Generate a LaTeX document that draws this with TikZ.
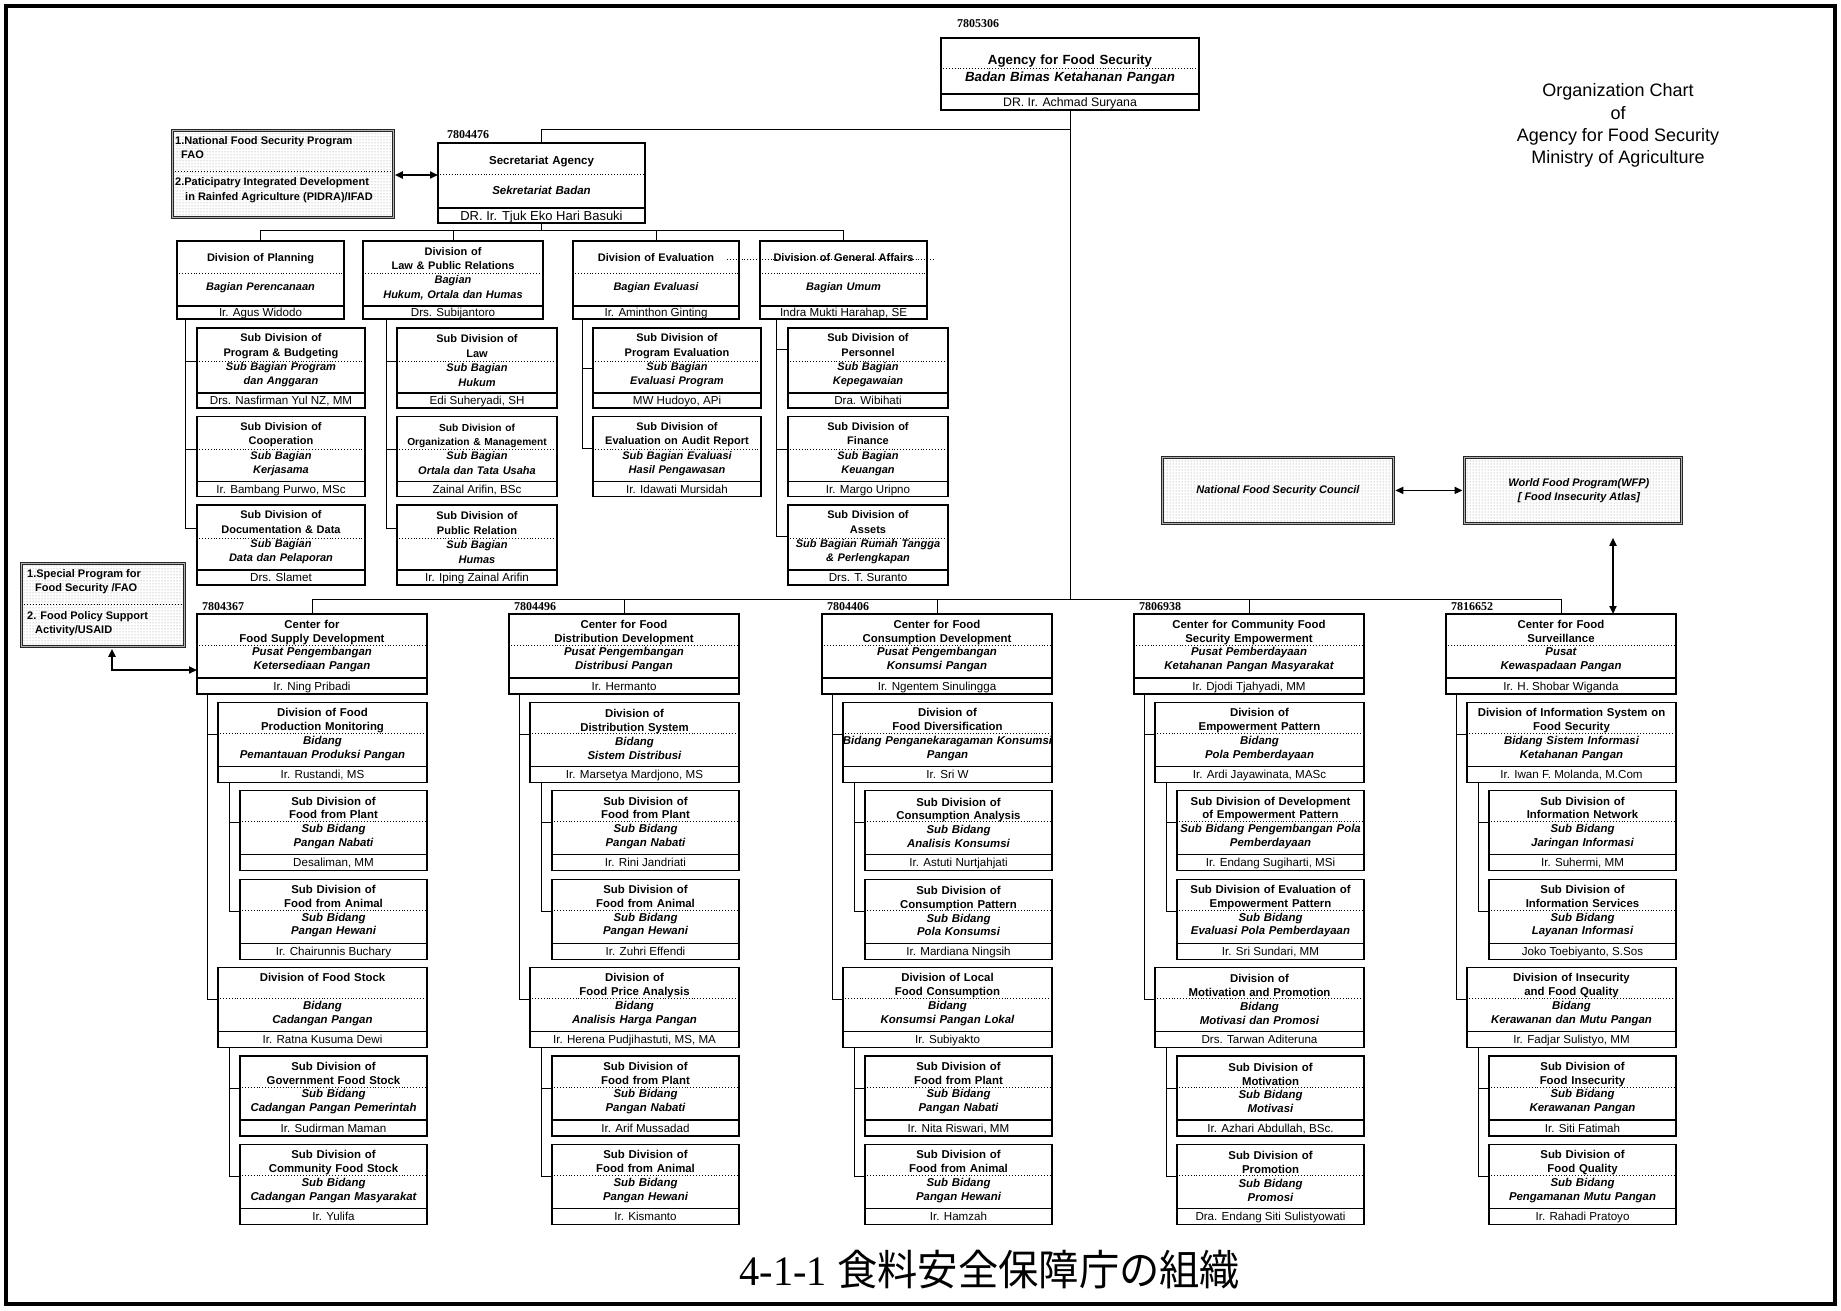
\documentclass[tikz,border=0pt]{standalone}
\usepackage{fontspec}
\usepackage{graphicx}
\setmainfont{Liberation Sans}
\newfontfamily\numfont{Liberation Serif}
\newfontfamily\cjkfont{Noto Sans CJK JP}
\usetikzlibrary{calc,arrows.meta,patterns}

% geometry and type settings of the organisation boxes (changed per tier)
\newcommand\obH{80}
\newcommand\obDiv{65}
\newcommand\obDot{33}
\newcommand\obFs{11}
\newcommand\obLs{14.4}
\newcommand\obNs{11.6}
\newcommand\obShift{0}

% #1 name, #2 x, #3 y (top left), #4 width, #5 English heading, #6 Indonesian name, #7 head of unit
\newcommand\orgbox[7]{%
  \node[obframe, minimum width=#4pt, minimum height=\obH pt] (#1) at (#2,#3) {};
  \draw[obdot] ($(#1.north west)+(2,\obDot)$) -- ($(#1.north east)+(0,\obDot)$);
  \draw[obrule] ($(#1.north west)+(0,\obDiv)$) -- ($(#1.north east)+(0,\obDiv)$);
  \node[obtext] (#1-t) at ($(#1.north)+(0,\obDiv/2+\obShift)$) {\bfseries #5\\\itshape #6};
  \node[obname] (#1-n) at ($(#1.south)+(0,{(\obDiv-\obH)/2+0.36*\obNs})$) {#7};
}

\begin{document}
\begin{tikzpicture}[x=1pt,y=-1pt,
  obframe/.style={draw, line width=1.1pt, inner sep=0pt, outer sep=0pt, anchor=north west},
  obrule/.style={line width=1.1pt},
  obdot/.style={line width=0.9pt, dotted},
  obtext/.style={inner sep=0pt, text width=280pt, align=center, font=\fontsize{\obFs}{\obLs}\selectfont},
  obname/.style={inner sep=0pt, anchor=base, font=\fontsize{\obNs}{\obNs}\selectfont},
  conn/.style={line width=1pt},
  progbox/.style={draw=black!85, line width=0.8pt, double=black!30, double distance=1.4pt,
    pattern=dots, pattern color=black!45, inner sep=0pt, anchor=north west},
  progtext/.style={inner sep=0pt, anchor=west, align=left, font=\fontsize{11}{14.5}\selectfont\bfseries},
  progital/.style={inner sep=0pt, align=center, font=\fontsize{11}{14}\selectfont\bfseries\itshape},
  numlabel/.style={inner sep=0pt, anchor=west, font=\fontsize{12}{12}\selectfont\numfont\bfseries},
  biarrow/.style={line width=1.8pt, {Triangle[length=8pt,width=7pt]}-{Triangle[length=8pt,width=7pt]}},
]
\useasboundingbox (0,0) rectangle (1841,1310);
\draw[line width=3.5pt] (6,6) rectangle (1835,1304);

% ---------------- head of agency ----------------
\renewcommand\obH{72}\renewcommand\obDiv{56}\renewcommand\obDot{30}\renewcommand\obShift{4}
\renewcommand\obFs{13.3}\renewcommand\obLs{17}\renewcommand\obNs{12.3}
\orgbox{ag}{941}{38}{258}{Agency for Food Security}{Badan Bimas Ketahanan Pangan}{DR. Ir. Achmad Suryana}
\node[numlabel] (n-ag) at ($(ag.north west)+(16,-14)$) {7805306};
\renewcommand\obShift{0}

% ---------------- secretariat ----------------
\renewcommand\obH{80}\renewcommand\obDiv{65}\renewcommand\obDot{31}
\renewcommand\obFs{11.5}\renewcommand\obLs{15}\renewcommand\obNs{13}
\orgbox{sec}{438}{143}{207}{Secretariat Agency\\\mbox{}}{Sekretariat Badan}{DR. Ir. Tjuk Eko Hari Basuki}
\node[numlabel] (n-sec) at ($(sec.north west)+(9,-8)$) {7804476};

% ---------------- divisions of the secretariat ----------------
\renewcommand\obH{78}\renewcommand\obDiv{65}\renewcommand\obDot{32}
\renewcommand\obFs{11}\renewcommand\obLs{14.4}\renewcommand\obNs{11.6}
\orgbox{dplan}{177}{241}{167}{Division of Planning\\\mbox{}}{Bagian Perencanaan}{Ir. Agus Widodo}
\orgbox{dlaw}{363}{241}{180}{Division of\\Law \& Public Relations}{Bagian\\Hukum, Ortala dan Humas}{Drs. Subijantoro}
\orgbox{deval}{573}{241}{166}{Division of Evaluation\\\mbox{}}{Bagian Evaluasi}{Ir. Aminthon Ginting}
\orgbox{dga}{760}{241}{167}{Division of General Affairs\\\mbox{}}{Bagian Umum}{Indra Mukti Harahap, SE}
\draw[obdot] ($(deval.north west)+(154,18)$) -- ($(dga.north east)+(6,18)$);

% ---------------- sub divisions of the secretariat ----------------
\renewcommand\obH{80}\renewcommand\obDiv{65}\renewcommand\obDot{33}
\orgbox{pa}{197}{328}{168}{Sub Division of\\Program \& Budgeting}{Sub Bagian Program\\dan Anggaran}{Drs. Nasfirman Yul NZ, MM}
\orgbox{pb}{197}{416.5}{168}{Sub Division of\\Cooperation}{Sub Bagian\\Kerjasama}{Ir. Bambang Purwo, MSc}
\orgbox{pc}{197}{505}{168}{Sub Division of\\Documentation \& Data}{Sub Bagian\\Data dan Pelaporan}{Drs. Slamet}
\orgbox{la}{397}{328}{160}{Sub Division of\\Law}{Sub Bagian\\Hukum}{Edi Suheryadi, SH}
\orgbox{lb}{397}{416.5}{160}{{\fontsize{10.2}{14.4}\selectfont Sub Division of\\Organization \& Management}}{Sub Bagian\\Ortala dan Tata Usaha}{Zainal Arifin, BSc}
\orgbox{lc}{397}{505}{160}{Sub Division of\\Public Relation}{Sub Bagian\\Humas}{Ir. Iping Zainal Arifin}
\orgbox{ea}{593}{328}{168}{Sub Division of\\Program Evaluation}{Sub Bagian\\Evaluasi Program}{MW Hudoyo, APi}
\orgbox{eb}{593}{416.5}{168}{Sub Division of\\Evaluation on Audit Report}{Sub Bagian Evaluasi\\Hasil Pengawasan}{Ir. Idawati Mursidah}
\orgbox{ga}{788}{328}{160}{Sub Division of\\Personnel}{Sub Bagian\\Kepegawaian}{Dra. Wibihati}
\orgbox{gb}{788}{416.5}{160}{Sub Division of\\Finance}{Sub Bagian\\Keuangan}{Ir. Margo Uripno}
\orgbox{gc}{788}{505}{160}{Sub Division of\\Assets}{Sub Bagian Rumah Tangga\\\& Perlengkapan}{Drs. T. Suranto}

% ---------------- centres ----------------
\renewcommand\obH{80}\renewcommand\obDiv{64}\renewcommand\obDot{31}
\renewcommand\obFs{11.4}\renewcommand\obLs{13.8}\renewcommand\obNs{11.6}
% Food supply
\orgbox{c1}{197}{614}{230}{Center for\\Food Supply Development}{Pusat Pengembangan\\Ketersediaan Pangan}{Ir. Ning Pribadi}
\orgbox{d1a}{218}{702.4}{209}{Division of Food\\Production Monitoring}{Bidang\\Pemantauan Produksi Pangan}{Ir. Rustandi, MS}
\orgbox{s1a}{240}{790.8}{187}{Sub Division of\\Food from Plant}{Sub Bidang\\Pangan Nabati}{Desaliman, MM}
\orgbox{s1b}{240}{879.2}{187}{Sub Division of\\Food from Animal}{Sub Bidang\\Pangan Hewani}{Ir. Chairunnis Buchary}
\orgbox{d1b}{218}{967.6}{209}{Division of Food Stock\\\mbox{}}{Bidang\\Cadangan Pangan}{Ir. Ratna Kusuma Dewi}
\orgbox{s1c}{240}{1056}{187}{Sub Division of\\Government Food Stock}{Sub Bidang\\Cadangan Pangan Pemerintah}{Ir. Sudirman Maman}
\orgbox{s1d}{240}{1144.4}{187}{Sub Division of\\Community Food Stock}{Sub Bidang\\Cadangan Pangan Masyarakat}{Ir. Yulifa}
% Food distribution
\orgbox{c2}{509}{614}{230}{Center for Food\\Distribution Development}{Pusat Pengembangan\\Distribusi Pangan}{Ir. Hermanto}
\orgbox{d2a}{530}{702.4}{209}{Division of\\Distribution System}{Bidang\\Sistem Distribusi}{Ir. Marsetya Mardjono, MS}
\orgbox{s2a}{552}{790.8}{187}{Sub Division of\\Food from Plant}{Sub Bidang\\Pangan Nabati}{Ir. Rini Jandriati}
\orgbox{s2b}{552}{879.2}{187}{Sub Division of\\Food from Animal}{Sub Bidang\\Pangan Hewani}{Ir. Zuhri Effendi}
\orgbox{d2b}{530}{967.6}{209}{Division of\\Food Price Analysis}{Bidang\\Analisis Harga Pangan}{Ir. Herena Pudjihastuti, MS, MA}
\orgbox{s2c}{552}{1056}{187}{Sub Division of\\Food from Plant}{Sub Bidang\\Pangan Nabati}{Ir. Arif Mussadad}
\orgbox{s2d}{552}{1144.4}{187}{Sub Division of\\Food from Animal}{Sub Bidang\\Pangan Hewani}{Ir. Kismanto}
% Food consumption
\orgbox{c3}{822}{614}{230}{Center for Food\\Consumption Development}{Pusat Pengembangan\\Konsumsi Pangan}{Ir. Ngentem Sinulingga}
\orgbox{d3a}{843}{702.4}{209}{Division of\\Food Diversification}{Bidang Penganekaragaman Konsumsi\\Pangan}{Ir. Sri W}
\orgbox{s3a}{865}{790.8}{187}{Sub Division of\\Consumption Analysis}{Sub Bidang\\Analisis Konsumsi}{Ir. Astuti Nurtjahjati}
\orgbox{s3b}{865}{879.2}{187}{Sub Division of\\Consumption Pattern}{Sub Bidang\\Pola Konsumsi}{Ir. Mardiana Ningsih}
\orgbox{d3b}{843}{967.6}{209}{Division of Local\\Food Consumption}{Bidang\\Konsumsi Pangan Lokal}{Ir. Subiyakto}
\orgbox{s3c}{865}{1056}{187}{Sub Division of\\Food from Plant}{Sub Bidang\\Pangan Nabati}{Ir. Nita Riswari, MM}
\orgbox{s3d}{865}{1144.4}{187}{Sub Division of\\Food from Animal}{Sub Bidang\\Pangan Hewani}{Ir. Hamzah}
% Community food security
\orgbox{c4}{1134}{614}{230}{Center for Community Food\\Security Empowerment}{Pusat Pemberdayaan\\Ketahanan Pangan Masyarakat}{Ir. Djodi Tjahyadi, MM}
\orgbox{d4a}{1155}{702.4}{209}{Division of\\Empowerment Pattern}{Bidang\\Pola Pemberdayaan}{Ir. Ardi Jayawinata, MASc}
\orgbox{s4a}{1177}{790.8}{187}{Sub Division of Development\\of Empowerment Pattern}{Sub Bidang Pengembangan Pola\\Pemberdayaan}{Ir. Endang Sugiharti, MSi}
\orgbox{s4b}{1177}{879.2}{187}{Sub Division of Evaluation of\\Empowerment Pattern}{Sub Bidang\\Evaluasi Pola Pemberdayaan}{Ir. Sri Sundari, MM}
\orgbox{d4b}{1155}{967.6}{209}{Division of\\Motivation and Promotion}{Bidang\\Motivasi dan Promosi}{Drs. Tarwan Aditeruna}
\orgbox{s4c}{1177}{1056}{187}{Sub Division of\\Motivation}{Sub Bidang\\Motivasi}{Ir. Azhari Abdullah, BSc.}
\orgbox{s4d}{1177}{1144.4}{187}{Sub Division of\\Promotion}{Sub Bidang\\Promosi}{Dra. Endang Siti Sulistyowati}
% Food surveillance
\orgbox{c5}{1446}{614}{230}{Center for Food\\Surveillance}{Pusat\\Kewaspadaan Pangan}{Ir. H. Shobar Wiganda}
\orgbox{d5a}{1467}{702.4}{209}{Division of Information System on\\Food Security}{Bidang Sistem Informasi\\Ketahanan Pangan}{Ir. Iwan F. Molanda, M.Com}
\orgbox{s5a}{1489}{790.8}{187}{Sub Division of\\Information Network}{Sub Bidang\\Jaringan Informasi}{Ir. Suhermi, MM}
\orgbox{s5b}{1489}{879.2}{187}{Sub Division of\\Information Services}{Sub Bidang\\Layanan Informasi}{Joko Toebiyanto, S.Sos}
\orgbox{d5b}{1467}{967.6}{209}{Division of Insecurity\\and Food Quality}{Bidang\\Kerawanan dan Mutu Pangan}{Ir. Fadjar Sulistyo, MM}
\orgbox{s5c}{1489}{1056}{187}{Sub Division of\\Food Insecurity}{Sub Bidang\\Kerawanan Pangan}{Ir. Siti Fatimah}
\orgbox{s5d}{1489}{1144.4}{187}{Sub Division of\\Food Quality}{Sub Bidang\\Pengamanan Mutu Pangan}{Ir. Rahadi Pratoyo}

\node[numlabel] (n-c1) at ($(c1.north west)+(5,-7)$) {7804367};
\node[numlabel] (n-c2) at ($(c2.north west)+(5,-7)$) {7804496};
\node[numlabel] (n-c3) at ($(c3.north west)+(5,-7)$) {7804406};
\node[numlabel] (n-c4) at ($(c4.north west)+(5,-7)$) {7806938};
\node[numlabel] (n-c5) at ($(c5.north west)+(5,-7)$) {7816652};

% ---------------- partner programmes ----------------
\node[progbox, minimum width=221pt, minimum height=87pt] (nfsp) at (172,130) {};
\draw[obdot] ($(nfsp.north west)+(3,41)$) -- ($(nfsp.north east)+(-3,41)$);
\node[progtext] (nfsp-a) at ($(nfsp.north west)+(3,17.5)$) {1.National Food Security Program\\\hspace*{6pt}FAO};
\node[progtext] (nfsp-b) at ($(nfsp.north west)+(3,60)$) {2.Paticipatry Integrated Development\\\hspace*{10pt}in Rainfed Agriculture (PIDRA)/IFAD};

\node[progbox, minimum width=163pt, minimum height=83pt] (sfsp) at (21,563) {};
\draw[obdot] ($(sfsp.north west)+(3,41)$) -- ($(sfsp.north east)+(-3,41)$);
\node[progtext, font=\fontsize{11}{13.5}\selectfont\bfseries] (sfsp-a) at ($(sfsp.north west)+(6,18.5)$) {1.Special Program for\\\hspace*{8pt}Food Security /FAO};
\node[progtext, font=\fontsize{11}{13.5}\selectfont\bfseries] (sfsp-b) at ($(sfsp.north west)+(6,60.5)$) {2. Food Policy Support\\\hspace*{8pt}Activity/USAID};

\node[progbox, minimum width=231pt, minimum height=66pt] (nfsc) at (1162,457) {};
\node[progital] (nfsc-t) at (nfsc.center) {National Food Security Council};
\node[progbox, minimum width=217pt, minimum height=66pt] (wfp) at (1464,457) {};
\node[progital] (wfp-t) at ($(wfp.center)+(6,0)$) {World Food Program(WFP)\\{[} Food Insecurity Atlas]};

% ---------------- title and caption ----------------
\node[align=center, inner sep=0pt, font=\fontsize{18}{22.3}\selectfont] (title) at (1618,125.5)
  {Organization Chart\\of\\Agency for Food Security\\Ministry of Agriculture};
\node[inner sep=0pt] (caption) at (990,1270)
  {\scalebox{0.96}[1]{\fontsize{42}{42}\selectfont\numfont 4-1-1 \cjkfont 食料安全保障庁の組織}};

% ---------------- reporting lines ----------------
\coordinate (topbus) at (0,129);
\coordinate (divbus) at (0,230);
\coordinate (ctrbus) at (0,599);
\draw[conn] (ag.south) -- (ag.south |- ctrbus);
\draw[conn] (sec.north) |- (ag.south |- topbus);
\draw[conn] (sec.south) -- (sec.south |- divbus);
\draw[conn] (dplan.north) |- (dga.north |- divbus) -- (dga.north);
\draw[conn] (dlaw.north) -- (dlaw.north |- divbus);
\draw[conn] (deval.north) -- (deval.north |- divbus);
\draw[conn] (c1.north) |- (c5.north |- ctrbus) -- (c5.north);
\foreach \i in {2,3,4} \draw[conn] (c\i.north) -- (c\i.north |- ctrbus);

% secretariat sub divisions
\draw[conn] ($(dplan.south west)+(8,0)$) |- ($(pc.north west)+(0,23)$);
\draw[conn] ($(dplan.south west)+(8,0)$) |- ($(pa.north west)+(0,33)$);
\draw[conn] ($(dplan.south west)+(8,0)$) |- ($(pb.north west)+(0,33)$);
\draw[conn] ($(dlaw.south west)+(23,0)$) |- ($(lc.north west)+(0,23)$);
\draw[conn] ($(dlaw.south west)+(23,0)$) |- ($(la.north west)+(0,33)$);
\draw[conn] ($(dlaw.south west)+(23,0)$) |- ($(lb.north west)+(0,33)$);
\draw[conn] ($(deval.south west)+(9,0)$) |- ($(eb.north west)+(0,32)$);
\draw[conn] ($(deval.south west)+(9,0)$) |- ($(ea.north west)+(0,40)$);
\draw[conn] ($(dga.south west)+(16,0)$) |- ($(gc.north west)+(0,31)$);
\draw[conn] ($(dga.south west)+(16,0)$) |- ($(ga.north west)+(0,21)$);
\draw[conn] ($(dga.south west)+(16,0)$) |- ($(gb.north west)+(0,33)$);

% centre divisions and sub divisions
\foreach \i in {1,...,5} {
  \draw[conn] ($(c\i.south west)+(10,0)$) |- ($(d\i b.north west)+(0,32)$);
  \draw[conn] ($(c\i.south west)+(10,0)$) |- ($(d\i a.north west)+(0,32)$);
  \draw[conn] ($(d\i a.south west)+(11,0)$) |- ($(s\i b.north west)+(0,32)$);
  \draw[conn] ($(d\i a.south west)+(11,0)$) |- ($(s\i a.north west)+(0,32)$);
  \draw[conn] ($(d\i b.south west)+(11,0)$) |- ($(s\i d.north west)+(0,32)$);
  \draw[conn] ($(d\i b.south west)+(11,0)$) |- ($(s\i c.north west)+(0,32)$);
}

% links with partner programmes
\draw[biarrow] ($(nfsp.north east)+(1,45)$) -- ($(sec.north west)+(0,32)$);
\draw[biarrow] ($(sfsp.south west)+(91,2)$) |- ($(c1.north west)+(0,56)$);
\draw[biarrow, shorten <=1.5pt, shorten >=1.5pt] (nfsc.east) -- (wfp.west);
\draw[biarrow] ($(wfp.south west)+(149,14)$) -- ($(c5.north west)+(167,0)$);
\end{tikzpicture}
\end{document}
